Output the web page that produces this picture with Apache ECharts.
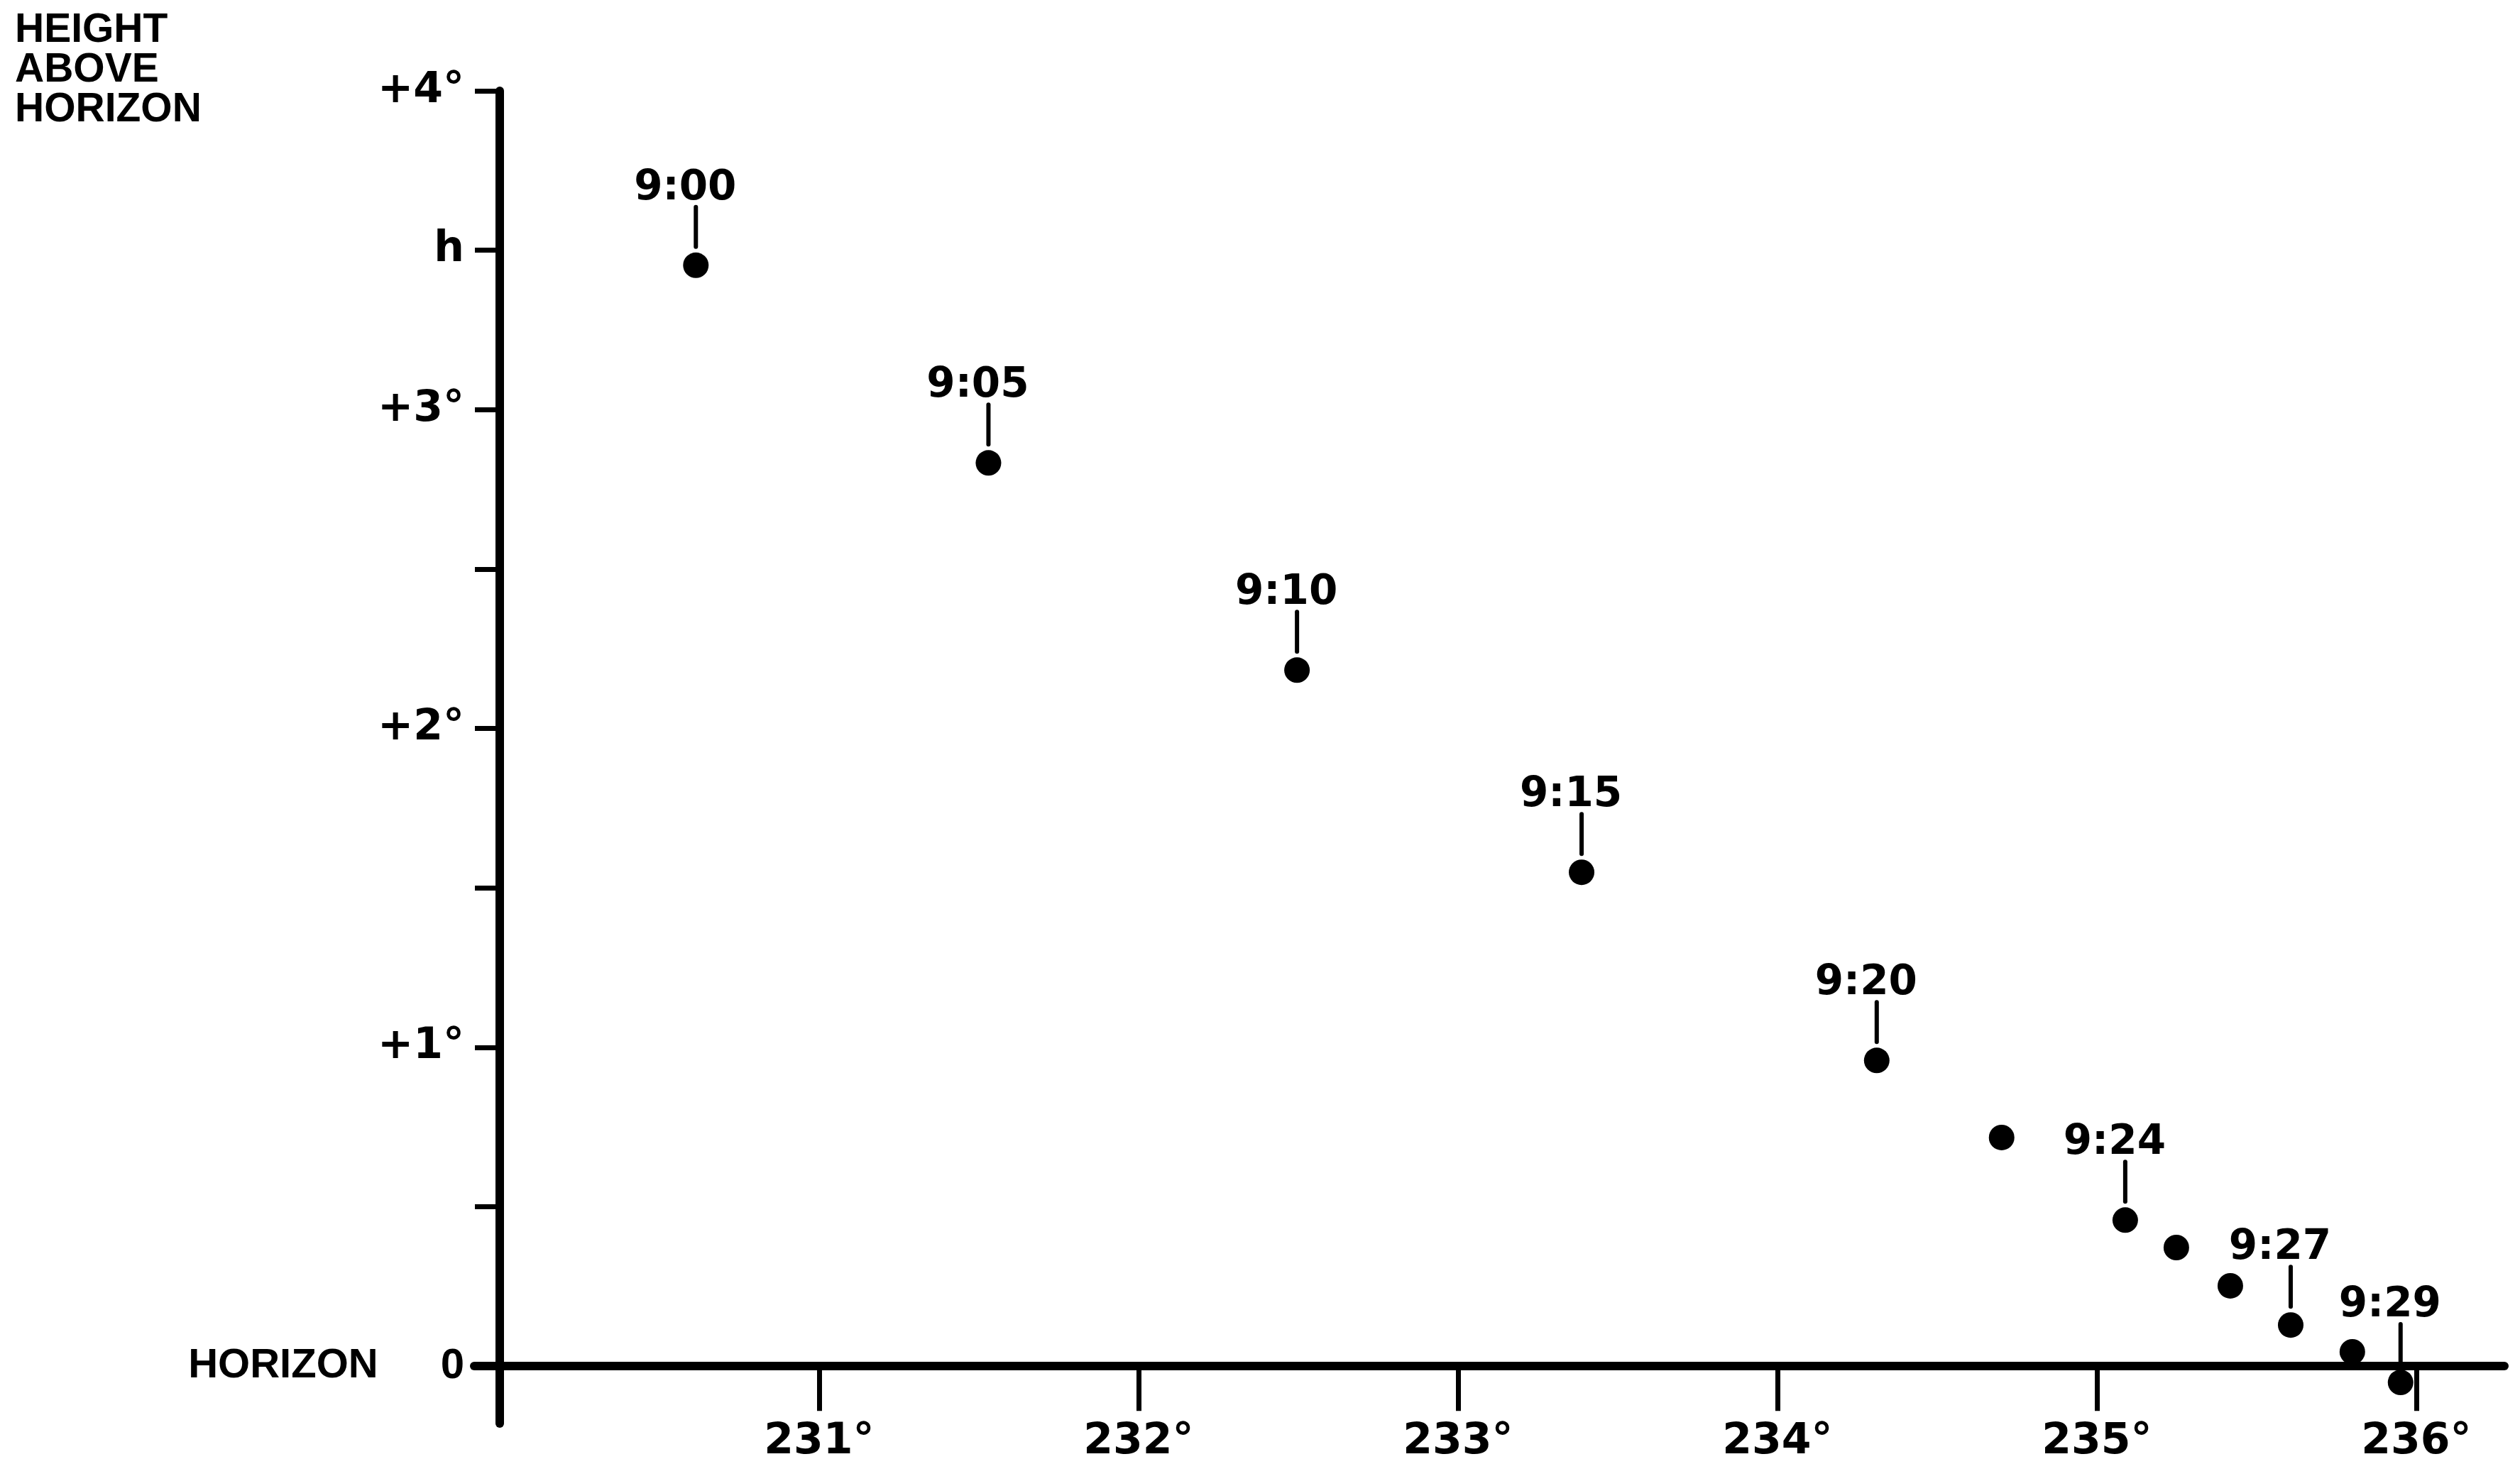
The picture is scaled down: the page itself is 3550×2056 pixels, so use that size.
<!DOCTYPE html>
<html>
<head>
<meta charset="utf-8">
<script src="https://cdn.jsdelivr.net/npm/echarts@6/dist/echarts.min.js"></script>
<style>
html,body{margin:0;padding:0;background:#fff;}
#chart{width:3550px;height:2056px;}
</style>
</head>
<body>
<div id="chart"></div>
<script>
// ---- data ----
const azimuth = [230.614, 231.530, 232.496, 233.387, 234.311, 234.702, 235.089, 235.249, 235.418, 235.607, 235.800, 235.951];
const heightDeg = [3.453, 2.833, 2.183, 1.549, 0.959, 0.717, 0.458, 0.372, 0.252, 0.129, 0.045, -0.051];
const timeLabels = ['9:00', '9:05', '9:10', '9:15', '9:20', '', '9:24', '', '', '9:27', '', '9:29'];
const xTickValues = [231, 232, 233, 234, 235, 236];
const yTickValues = [0, 0.5, 1, 1.5, 2, 2.5, 3, 3.5, 4];
const yTickLabels = ['0', '', '+1°', '', '+2°', '', '+3°', 'h', '+4°'];
const yTitle = 'HEIGHT\nABOVE\nHORIZON';
const horizonText = 'HORIZON';

const X_MIN = 229.92, X_MAX = 236.276, Y_MIN = -0.18, Y_MAX = 4;
const FONT_D = 'DejaVu Sans';
const FONT_L = 'Liberation Sans';

const points = azimuth.map((a, i) => [a, heightDeg[i]]);
const labelled = [];
azimuth.forEach((a, i) => { if (timeLabels[i]) labelled.push([a, heightDeg[i], timeLabels[i]]); });

const chart = echarts.init(document.getElementById('chart'), null, {renderer: 'canvas'});

const DOT = 36;
const option = {
  backgroundColor: '#ffffff',
  animation: false,
  title: {
    text: yTitle,
    left: 16,
    top: 10,
    textStyle: {fontFamily: FONT_L, fontWeight: 'bold', fontSize: 57, lineHeight: 56, color: '#000'}
  },
  grid: {left: 668, right: 22, top: 128, bottom: 50, containLabel: false, outerBoundsMode: 'none'},
  xAxis: {
    type: 'value',
    min: X_MIN, max: X_MAX,
    axisLine: {show: true, onZero: true, lineStyle: {color: '#000', width: 12, cap: 'round'}},
    axisTick: {show: true, inside: false, length: 63, customValues: xTickValues, lineStyle: {color: '#000', width: 7}},
    axisLabel: {
      show: true, customValues: xTickValues, margin: -4,
      fontFamily: FONT_D, fontWeight: 'bold', fontSize: 60, color: '#000',
      formatter: v => Math.round(v) + '°'
    },
    splitLine: {show: false}
  },
  yAxis: {
    type: 'value',
    min: Y_MIN, max: Y_MAX,
    offset: 0,
    axisLine: {show: true, onZero: false, lineStyle: {color: '#000', width: 12}},
    axisTick: {show: true, inside: false, length: 35, customValues: yTickValues, lineStyle: {color: '#000', width: 7}},
    axisLabel: {
      show: true, customValues: yTickValues, margin: 50,
      fontFamily: FONT_D, fontWeight: 'bold', fontSize: 60, color: '#000',
      formatter: v => {
        const i = yTickValues.findIndex(t => Math.abs(t - v) < 1e-6);
        if (i === 0) return '{h|' + horizonText + '}{z|' + yTickLabels[0] + '}';
        return i >= 0 ? yTickLabels[i] : '';
      },
      rich: {
        h: {fontFamily: FONT_L, fontWeight: 'bold', fontSize: 58, color: '#000', padding: [0, 88, 0, 0]},
        z: {fontFamily: FONT_L, fontWeight: 'bold', fontSize: 60, color: '#000'}
      }
    },
    splitLine: {show: false}
  },
  series: [
    {
      type: 'scatter',
      data: points,
      symbol: 'circle',
      symbolSize: DOT,
      itemStyle: {color: '#000', opacity: 1},
      z: 5
    },
    {
      type: 'custom',
      data: labelled,
      clip: false,
      z: 6,
      renderItem: function (params, api) {
        const p = api.coord([api.value(0), api.value(1)]);
        const gap = 8, len = 56;
        const yBottom = p[1] - DOT / 2 - gap;
        const yTop = yBottom - len;
        return {
          type: 'group',
          children: [
            {type: 'line', shape: {x1: p[0], y1: yBottom, x2: p[0], y2: yTop},
             style: {stroke: '#000', lineWidth: 6, lineCap: 'round'}},
            {type: 'text',
             style: {text: api.value(2), x: p[0] - 15, y: yTop + 3, align: 'center', verticalAlign: 'bottom',
                     fontFamily: FONT_D, fontWeight: 'bold', fontSize: 58, fill: '#000'}}
          ]
        };
      },
      encode: {x: 0, y: 1}
    }
  ]
};
chart.setOption(option);
// place the vertical axis at 230° (the horizontal axis extends a little to its left)
const px230 = chart.convertToPixel({xAxisIndex: 0}, 230);
const pxMin = chart.convertToPixel({xAxisIndex: 0}, X_MIN);
chart.setOption({yAxis: {offset: -(px230 - pxMin)}});
</script>
</body>
</html>
